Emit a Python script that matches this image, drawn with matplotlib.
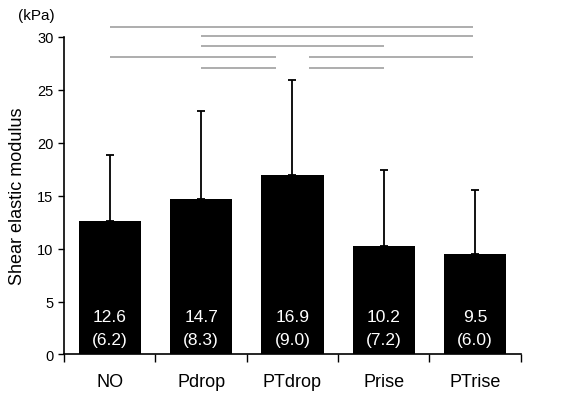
import matplotlib
matplotlib.use('Agg')
import matplotlib.pyplot as plt

plt.rcParams['font.family'] = ['Liberation Sans', 'DejaVu Sans']

# Data
groups = ['NO', 'Pdrop', 'PTdrop', 'Prise', 'PTrise']
means = [12.6, 14.7, 16.9, 10.2, 9.5]
sds = [6.2, 8.3, 9.0, 7.2, 6.0]

# gray comparison lines between groups and their heights
sig_pairs = [(0, 4), (1, 4), (1, 3), (0, 2), (2, 4), (1, 2), (2, 3)]
sig_levels = [30.9, 30.05, 29.1, 28.1, 28.1, 27.05, 27.05]

fig = plt.figure(figsize=(5.68, 4.02), dpi=100)
ax = fig.add_axes([0.1127, 0.1157, 0.8043, 0.7905])

x = list(range(len(groups)))
ax.bar(x, means, width=0.68, color='black', zorder=2)
ax.errorbar(x, means, yerr=[[0] * len(sds), sds], fmt='none', ecolor='black',
            elinewidth=1.3, capsize=3.2, capthick=1.3, zorder=1)

for xi, m, s in zip(x, means, sds):
    ax.text(xi, 3.57, f'{m:.1f}', color='white', ha='center', va='center', fontsize=12.5)
    ax.text(xi, 1.46, f'({s:.1f})', color='white', ha='center', va='center', fontsize=12.5)

# lines meeting at PTdrop are shortened to leave a gap around it
for (a, b), lvl in zip(sig_pairs, sig_levels):
    x0, x1 = a, b
    if b == 2:
        x1 = 2 - 0.18
    if a == 2:
        x0 = 2 + 0.18
    if b == 4:
        x1 = 4 - 0.02
    ax.plot([x0, x1], [lvl, lvl], color='#a0a0a0', lw=1.2, clip_on=False,
            solid_capstyle='butt')

ax.set_xlim(-0.5, 4.5)
ax.set_ylim(0, 30)
ax.set_yticks(range(0, 31, 5))
ax.set_xticks([i - 0.5 for i in range(6)])
ax.set_xticklabels([])
ax.set_xticks(x, minor=True)
ax.set_xticklabels(groups, minor=True, fontsize=13)
ax.tick_params(axis='x', which='minor', length=0, pad=13)
ax.tick_params(axis='x', which='major', direction='out', length=6, width=1)
ax.tick_params(axis='y', direction='out', length=4, width=1, labelsize=10.5)

for side in ['top', 'right']:
    ax.spines[side].set_visible(False)
for side in ['left', 'bottom']:
    ax.spines[side].set_linewidth(1.2)

ax.set_ylabel('Shear elastic modulus', fontsize=13, labelpad=8)
fig.text(0.031, 0.96, '(kPa)', fontsize=11, ha='left', va='center')

fig.savefig('out.png', dpi=100)
